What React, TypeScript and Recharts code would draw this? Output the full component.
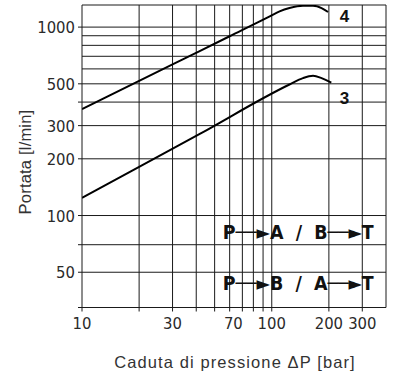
import { LineChart, Line, XAxis, YAxis, ReferenceLine, ReferenceDot } from 'recharts';

// curve 4 (upper) and curve 3 (lower): pressure drop [bar] -> flow [l/min]
const pressure4 = [10, 30, 60, 97.6, 110, 124, 146, 165, 183, 198];
const flow4 = [367, 634, 894, 1139, 1211, 1262, 1298, 1298, 1262, 1202];
const pressure3 = [10, 20, 42, 124, 146, 165, 183, 206];
const flow3 = [124, 181, 272, 496, 536, 551, 536, 507];

const xDomain = [10, 400];
const yDomain = [32.5, 1310];
const xTicks = [10, 20, 30, 40, 50, 60, 70, 80, 90, 100, 200, 300];
const xLabels = [10, 30, 70, 100, 200, 300];
const yTicks = [32.5, 50, 70, 100, 200, 300, 400, 500, 1000];
const yLabels = [50, 100, 200, 300, 500, 1000];
const yGrid = [50, 70, 100, 200, 300, 400, 500, 600, 700, 800, 900, 1000];

const curveNames = ['4', '3'];
const curveNameAt = [
  { x: 242, y: 1148 },
  { x: 242, y: 421 },
];
const flowPaths = [
  'P\u2500\u2500\u25BAA\u00A0\u00A0/\u00A0\u00A0B\u2500\u2500\u25BAT',
  'P\u2500\u2500\u25BAB\u00A0\u00A0/\u00A0\u00A0A\u2500\u2500\u25BAT',
];
const flowPathAt = [
  { x: 55.2, y: 81.4 },
  { x: 55.2, y: 43.8 },
];

const toPoints = (xs: number[], ys: number[]) => xs.map((p, i) => ({ p, q: ys[i] }));
const curve4 = toPoints(pressure4, flow4);
const curve3 = toPoints(pressure3, flow3);

const INK = '#1a1a1a';
const tickFont = "'Liberation Sans Narrow', 'DejaVu Sans Condensed', sans-serif";

function XTick({ x, y, payload }: any) {
  if (!xLabels.includes(payload.value)) return <g />;
  const dx = payload.value === 70 ? -9 : 0;
  return (
    <text x={x + dx} y={y + 15} textAnchor="middle" fontSize={16.5} fontFamily={tickFont} fill="#2a2a2a">
      {payload.value}
    </text>
  );
}

function YTick({ x, y, payload }: any) {
  if (!yLabels.includes(payload.value)) return <g />;
  return (
    <text x={x - 1} y={y + 6} textAnchor="end" fontSize={16.5} fontFamily={tickFont} fill="#2a2a2a">
      {payload.value}
    </text>
  );
}

function FlowPathLabel({ viewBox, value }: any) {
  const vb = viewBox || {};
  return (
    <text
      x={vb.x}
      y={(vb.y ?? 0) + (vb.height ?? 0) / 2 + 7}
      fontSize={19}
      fontWeight="bold"
      fontFamily={tickFont}
      fill="#111"
      textLength={151}
      lengthAdjust="spacingAndGlyphs"
    >
      {value}
    </text>
  );
}

export default function App() {
  return (
    <div style={{ position: 'absolute', left: 0, top: 0, width: 400, height: 387, background: '#fff' }}>
      <LineChart width={400} height={387} margin={{ top: 5, right: 14, bottom: 49.5, left: 0 }}>
        <XAxis
          type="number"
          dataKey="p"
          scale="log"
          domain={xDomain}
          allowDataOverflow
          ticks={xTicks}
          interval={0}
          height={30}
          tickSize={4}
          tick={<XTick />}
          stroke={INK}
        />
        <YAxis
          type="number"
          dataKey="q"
          scale="log"
          domain={yDomain}
          allowDataOverflow
          ticks={yTicks}
          interval={0}
          width={82}
          tickSize={4}
          tick={<YTick />}
          stroke={INK}
        />
        {yGrid.map((v) => (
          <ReferenceLine key={'h' + v} y={v} stroke={INK} strokeWidth={1} />
        ))}
        {xTicks.slice(1).map((v) => (
          <ReferenceLine key={'v' + v} x={v} stroke={INK} strokeWidth={1} />
        ))}
        <ReferenceLine y={yDomain[1]} stroke={INK} strokeWidth={1} />
        <ReferenceLine x={xDomain[1]} stroke={INK} strokeWidth={1} />
        <Line data={curve4} dataKey="q" type="monotone" stroke="#000" strokeWidth={2} dot={false} isAnimationActive={false} />
        <Line data={curve3} dataKey="q" type="monotone" stroke="#000" strokeWidth={2} dot={false} isAnimationActive={false} />
        {curveNames.map((n, i) => (
          <ReferenceDot
            key={'c' + n}
            x={curveNameAt[i].x}
            y={curveNameAt[i].y}
            r={0}
            stroke="none"
            label={{ value: n, position: 'center', fontSize: 17, fontWeight: 'bold', fill: '#111', fontFamily: 'Liberation Sans, Arial, sans-serif' }}
          />
        ))}
        {flowPaths.map((t, i) => (
          <ReferenceDot
            key={'f' + i}
            x={flowPathAt[i].x}
            y={flowPathAt[i].y}
            r={0}
            stroke="none"
            label={<FlowPathLabel value={t} />}
          />
        ))}
      </LineChart>
      <div
        style={{
          position: 'absolute',
          left: 25,
          top: 162,
          transform: 'translate(-50%, -50%) rotate(-90deg)',
          whiteSpace: 'nowrap',
          fontFamily: "'Liberation Sans', Arial, sans-serif",
          fontSize: 16.5,
          letterSpacing: 0.2,
          color: '#333',
        }}
      >
        Portata [l/min]
      </div>
      <div
        style={{
          position: 'absolute',
          left: 235,
          top: 362,
          transform: 'translate(-50%, -50%)',
          whiteSpace: 'nowrap',
          fontFamily: "'Liberation Sans', Arial, sans-serif",
          fontSize: 16.5,
          letterSpacing: 1.1,
          color: '#333',
        }}
      >
        Caduta di pressione ΔP [bar]
      </div>
    </div>
  );
}
